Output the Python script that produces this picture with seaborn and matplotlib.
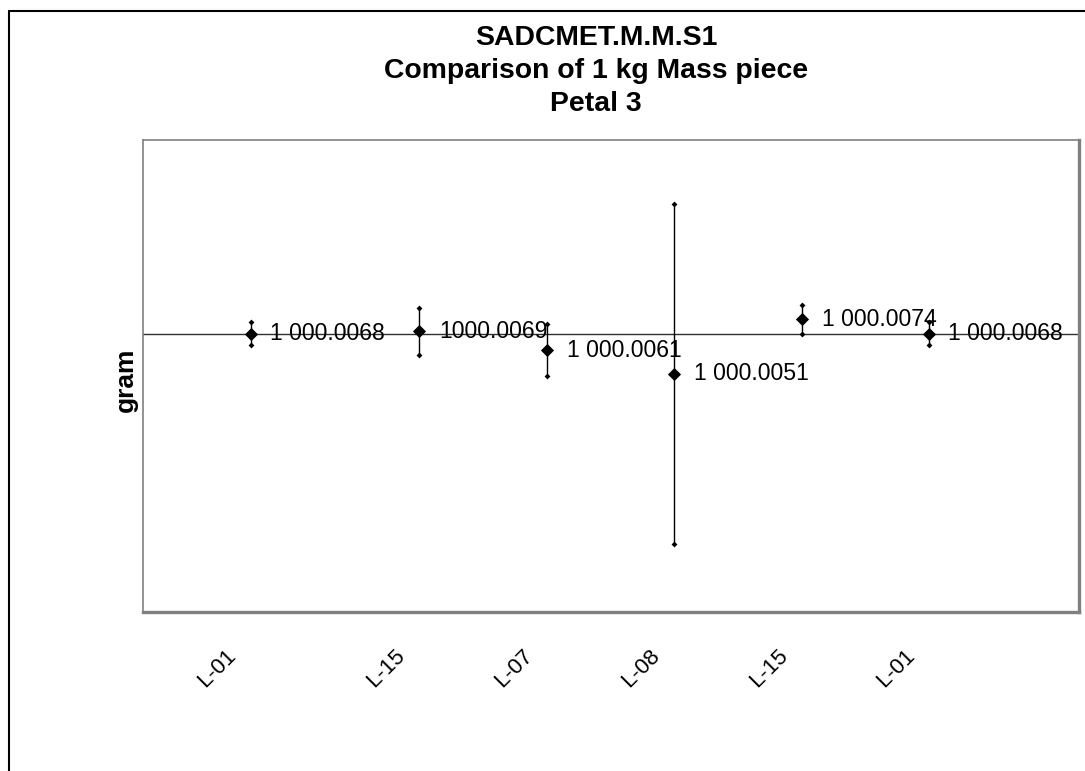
import matplotlib
matplotlib.use("Agg")
import matplotlib.pyplot as plt
import matplotlib.transforms as mtransforms
from matplotlib.lines import Line2D
import seaborn as sns
import pandas as pd

# ---- data ----
labels = ["L-01", "L-15", "L-07", "L-08", "L-15", "L-01"]
run_pos = [0.84, 2.16, 3.16, 4.15, 5.15, 6.14]
mass = [1000.0068, 1000.0069, 1000.0061, 1000.0051, 1000.0074, 1000.0068]
uncert = [0.0005, 0.0010, 0.0011, 0.0072, 0.0006, 0.0005]
value_text = ["1 000.0068", "1000.0069", "1 000.0061", "1 000.0051", "1 000.0074", "1 000.0068"]
reference = 1000.0068
y_range = (999.995, 1000.015)
title_lines = ["SADCMET.M.M.S1", "Comparison of 1 kg Mass piece", "Petal 3"]
y_title = "gram"

df = pd.DataFrame({"pos": run_pos, "mass": mass, "u": uncert, "lab": labels})

sns.set_style("white")
plt.rcParams["font.family"] = ["Liberation Sans", "DejaVu Sans"]
plt.rcParams["text.color"] = "black"
plt.rcParams["xtick.color"] = "black"
plt.rcParams["xtick.labelcolor"] = "black"

W, H = 1085, 771
fig = plt.figure(figsize=(W / 100, H / 100), dpi=100)
ax = fig.add_axes([143 / W, 1 - 612 / H, (1079 - 143) / W, (612 - 140) / H])

# reference line
ax.axhline(reference, color="#303030", lw=1.0, zorder=1)

# error bars
ax.vlines(df["pos"], df["mass"] - df["u"], df["mass"] + df["u"], color="black", lw=1.0, zorder=2)
caps = pd.concat([
    pd.DataFrame({"pos": df["pos"], "y": df["mass"] - df["u"]}),
    pd.DataFrame({"pos": df["pos"], "y": df["mass"] + df["u"]}),
])
sns.scatterplot(data=caps, x="pos", y="y", marker="D", s=9, color="black",
                edgecolor="black", linewidth=0, ax=ax, zorder=3, legend=False)

# main points
sns.scatterplot(data=df, x="pos", y="mass", marker="D", s=45, color="black",
                edgecolor="black", linewidth=0, ax=ax, zorder=4, legend=False)

for x, y, t in zip(df["pos"], df["mass"], value_text):
    ax.annotate(t, (x, y), xytext=(14, 0), textcoords="offset points",
                va="center", ha="left", fontsize=16.6, color="black", zorder=5)

ax.set_xlim(0, 7.3125)
ax.set_ylim(*y_range)
ax.set_yticks([])
ax.set_xticks(run_pos)
ax.set_xticklabels(labels, rotation=45, ha="right", va="top", fontsize=16, color="black")
ax.tick_params(axis="x", length=0, pad=24)
offset = mtransforms.ScaledTranslation(-10 / 100, 0, fig.dpi_scale_trans)
for lbl in ax.get_xticklabels():
    lbl.set_transform(lbl.get_transform() + offset)
ax.set_xlabel("")
ax.set_ylabel("")

for side in ["left", "top"]:
    ax.spines[side].set_color("#808080")
    ax.spines[side].set_linewidth(1.2)
for side in ["right", "bottom"]:
    ax.spines[side].set_color("#808080")
    ax.spines[side].set_linewidth(2.4)

fig.text(126 / W, 1 - 380 / H, y_title, rotation=90, ha="center", va="center",
         fontsize=19, fontweight="bold", color="black")
fig.text(596 / W, 1 - 71 / H, "\n".join(title_lines), ha="center", va="center",
         fontsize=20.4, fontweight="bold", linespacing=1.34, color="black")

# outer chart-area border (left and top edges visible)
bx, by = 9 / W, 1 - 11 / H
fig.add_artist(Line2D([bx, bx], [0, by], transform=fig.transFigure, color="black", lw=1.5))
fig.add_artist(Line2D([bx, 1], [by, by], transform=fig.transFigure, color="black", lw=1.5))

fig.savefig("out.png", dpi=100, facecolor="white")
